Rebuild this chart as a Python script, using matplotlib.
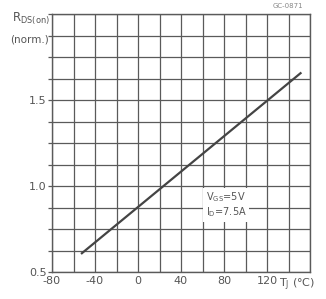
import matplotlib
matplotlib.use("Agg")
import matplotlib.pyplot as plt
import numpy as np

# Data
temp_c = [-53, 152]
rds_norm = [0.605, 1.66]
x_ticks = [-80, -40, 0, 40, 80, 120]
x_tick_labels = ["-80", "-40", "0", "40", "80", "120"]
y_ticks = [0.5, 1.0, 1.5]
y_tick_labels = ["0.5", "1.0", "1.5"]

plt.rcParams['font.family'] = ['DejaVu Sans']
gc = '#5a5a5a'
tc = '#555555'

fig = plt.figure(figsize=(3.26, 2.99), dpi=100)
ax = fig.add_axes([52/326, 27/299, 258/326, 258/299])
ax.set_xlim(-80, 160)
ax.set_ylim(0.5, 2.0)

ax.set_xticks(np.arange(-80, 161, 20), minor=True)
ax.set_yticks(np.arange(0.5, 2.001, 0.125), minor=True)
ax.set_xticks(x_ticks)
ax.set_xticklabels(x_tick_labels)
ax.set_yticks(y_ticks)
ax.set_yticklabels(y_tick_labels)
ax.grid(which='both', color=gc, linewidth=0.9)
ax.tick_params(which='both', axis='y', length=3, width=0.9, color=gc, labelsize=8, labelcolor=tc, pad=1)
ax.tick_params(which='both', axis='x', length=0, labelsize=8, labelcolor=tc, pad=3)
for s in ax.spines.values():
    s.set_color(gc)
    s.set_linewidth(1.0)

ax.plot(temp_c, rds_norm, color='#444444', linewidth=1.6, solid_capstyle='butt')

ax.text(63, 0.89, "V$_{\\mathregular{GS}}$=5V\nI$_{\\mathregular{D}}$=7.5A", fontsize=7, color=tc,
        va='center', ha='left', linespacing=1.15,
        bbox=dict(facecolor='white', edgecolor='none', pad=2))

fig.text(12/326, 1 - 22/299, "R$_{\\mathregular{DS(on)}}$", fontsize=8.5, color=tc, va='baseline', ha='left')
fig.text(10/326, 1 - 42/299, "(norm.)", fontsize=7.5, color=tc, va='baseline', ha='left')
fig.text(288/326, 1 - 8/299, "GC-0871", fontsize=5, color='#888888', va='baseline', ha='center')
fig.text(279/326, 1 - 287/299, "T$_{\\mathregular{J}}$ (°C)", fontsize=8, color=tc,
         va='baseline', ha='left')

fig.savefig("out.png", dpi=100, facecolor='white')
